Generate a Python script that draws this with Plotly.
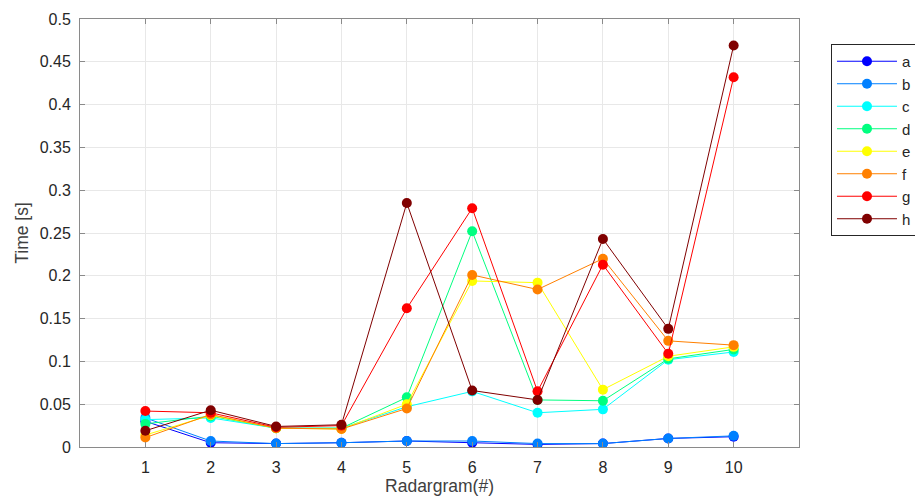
import plotly.graph_objects as go

radargrams = [1, 2, 3, 4, 5, 6, 7, 8, 9, 10]
series_names = ["a", "b", "c", "d", "e", "f", "g", "h"]
a = [0.030, 0.005, 0.004, 0.005, 0.007, 0.005, 0.003, 0.004, 0.010, 0.012]
b = [0.034, 0.007, 0.004, 0.005, 0.007, 0.007, 0.004, 0.004, 0.010, 0.013]
c = [0.032, 0.034, 0.022, 0.022, 0.047, 0.065, 0.040, 0.044, 0.102, 0.111]
d = [0.027, 0.036, 0.022, 0.022, 0.058, 0.252, 0.055, 0.054, 0.103, 0.114]
e = [0.014, 0.037, 0.022, 0.021, 0.050, 0.194, 0.192, 0.067, 0.106, 0.117]
f = [0.011, 0.038, 0.022, 0.021, 0.045, 0.201, 0.184, 0.220, 0.124, 0.119]
g = [0.042, 0.040, 0.023, 0.025, 0.162, 0.279, 0.065, 0.213, 0.109, 0.432]
h = [0.019, 0.043, 0.024, 0.026, 0.285, 0.066, 0.055, 0.243, 0.138, 0.469]
colors = ["#0000ff", "#0080ff", "#00ffff", "#00ff80", "#ffff00", "#ff8000", "#ff0000", "#800000"]
y_ticks = [0, 0.05, 0.1, 0.15, 0.2, 0.25, 0.3, 0.35, 0.4, 0.45, 0.5]
y_tick_text = ["0", "0.05", "0.1", "0.15", "0.2", "0.25", "0.3", "0.35", "0.4", "0.45", "0.5"]

all_series = [a, b, c, d, e, f, g, h]

fig = go.Figure()
for name, vals, col in zip(series_names, all_series, colors):
    fig.add_trace(go.Scatter(
        x=radargrams, y=vals, name=name, mode="lines+markers",
        line=dict(color=col, width=1),
        marker=dict(color=col, size=10),
    ))

font_family = "Liberation Sans, Arial, sans-serif"
fig.update_layout(
    width=915, height=501,
    margin=dict(l=80, r=116, t=19, b=54, autoexpand=False),
    paper_bgcolor="white", plot_bgcolor="white",
    font=dict(family=font_family, size=16, color="#262626"),
    showlegend=True,
    legend=dict(
        x=1.0445, y=0.9416, xanchor="left", yanchor="top",
        bordercolor="#262626", borderwidth=1, bgcolor="white",
        font=dict(size=15, color="#262626"),
        itemwidth=60, tracegroupgap=0,
    ),
    xaxis=dict(
        range=[0, 11], tickvals=radargrams, ticktext=[str(r) for r in radargrams],
        showgrid=True, gridcolor="#e8e8e8", gridwidth=1,
        showline=True, linecolor="#8a8a8a", linewidth=1, mirror="ticks",
        ticks="inside", ticklen=5, tickcolor="#8a8a8a",
        ticklabelstandoff=6,
        tickfont=dict(size=16, color="#262626"),
        title=dict(text="Radargram(#)", font=dict(size=17.5, color="#404040"), standoff=4),
        zeroline=False,
    ),
    yaxis=dict(
        range=[0, 0.5], tickvals=y_ticks, ticktext=y_tick_text,
        showgrid=True, gridcolor="#e8e8e8", gridwidth=1,
        showline=True, linecolor="#8a8a8a", linewidth=1, mirror="ticks",
        ticks="inside", ticklen=5, tickcolor="#8a8a8a",
        ticklabelstandoff=5,
        tickfont=dict(size=16, color="#262626"),
        title=dict(text="Time [s]", font=dict(size=17.5, color="#404040"), standoff=6),
        zeroline=False,
    ),
)

fig.write_html("out.html")
